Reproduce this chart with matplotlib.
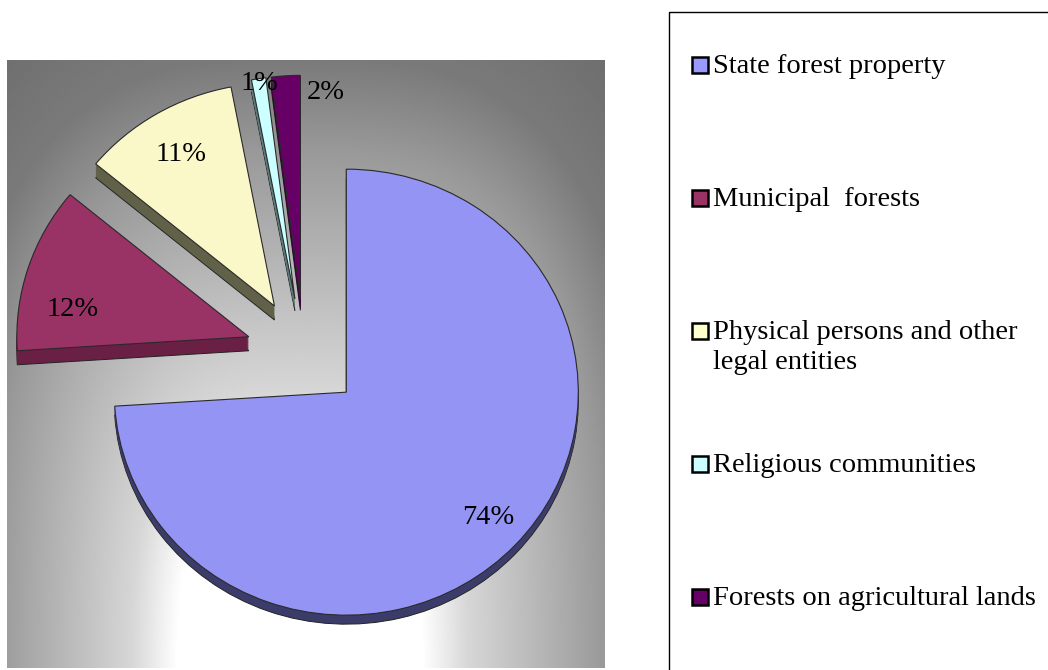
import numpy as np
import matplotlib.pyplot as plt
from matplotlib.patches import Rectangle

categories = ['State forest property', 'Municipal  forests',
              'Physical persons and other\nlegal entities',
              'Religious communities', 'Forests on agricultural lands']
shares = [74, 12, 11, 1, 2]

top_colors = ['#9494F4', '#993366', '#FAF8C8', '#CCFFFF', '#660066']
side_colors = ['#3C3C6A', '#6A1F45', '#616049', '#5C7A7A', '#42003F']
legend_colors = ['#9999FF', '#993366', '#FFFFCC', '#CCFFFF', '#660066']
side_depth = [9, 14, 14, 12, 12]      # thickness of each slice, px
label_r = [0.83, 0.77, 0.79, 0.98, 0.93]
label_turn = [0.6, 9, 0, 0, -10.3]    # degrees
explode = [0.25] * 5

W, H = 1048, 670
fig = plt.figure(figsize=(W / 100, H / 100), dpi=100)
serif = 'Liberation Serif'

# plot area (pixels) and pie scale
px0, px1, py0, py1 = 7, 605, 60, 668
rx, ry = 232, 223
cx, cy = 304, 354
ax = fig.add_axes([px0 / W, 1 - py1 / H, (px1 - px0) / W, (py1 - py0) / H])
xlim = ((px0 - cx) / rx, (px1 - cx) / rx)
ylim = (-(py1 - cy) / ry, (cy - py0) / ry)

# grey background, bright towards the bottom centre
gx, gy = np.meshgrid(np.linspace(px0, px1, 300), np.linspace(py0, py1, 300))
dist = (np.abs((gx - 300) / 340) ** 3 + np.abs((gy - 690) / 600) ** 3) ** (1 / 3)
shade = np.interp(dist, [0, 0.36, 0.5, 0.65, 0.9, 1.05, 1.25],
                  [1, 1, 0.84, 0.75, 0.6, 0.48, 0.43])
ax.imshow(shade, cmap='gray', vmin=0, vmax=1, origin='upper', aspect='auto',
          extent=(xlim[0], xlim[1], ylim[0], ylim[1]), zorder=0)

# slice thickness: stacked copies shifted downwards
for k in range(max(side_depth), 0, -1):
    side, _ = ax.pie(shares, explode=explode, colors=side_colors, startangle=90,
                     counterclock=False, center=(0, -k / ry), frame=True,
                     wedgeprops=dict(linewidth=0))
    for w, dep in zip(side, side_depth):
        w.set_visible(k <= dep)
        if k == dep:
            w.set_edgecolor('#222222')
            w.set_linewidth(0.7)

wedges, _ = ax.pie(shares, explode=explode, colors=top_colors, startangle=90,
                   counterclock=False, frame=True,
                   wedgeprops=dict(edgecolor='#2a2a2a', linewidth=0.8))

for w, val, r, turn in zip(wedges, shares, label_r, label_turn):
    ang = np.deg2rad((w.theta1 + w.theta2) / 2 + turn)
    ox, oy = w.center
    ax.text(ox + r * np.cos(ang), oy + r * np.sin(ang), f'{val}%',
            ha='center', va='center', fontsize=20.5, family=serif)

ax.set_aspect('auto')
ax.set_xlim(*xlim)
ax.set_ylim(*ylim)
ax.axis('off')

# legend box on the right
lax = fig.add_axes([0, 0, 1, 1])
lax.set_xlim(0, W)
lax.set_ylim(H, 0)
lax.axis('off')
lax.add_patch(Rectangle((669, 11.5), 500, 700, fill=False, ec='black', lw=1))
for i, (name, col) in enumerate(zip(categories, legend_colors)):
    base = 73 + 133 * i
    lax.add_patch(Rectangle((692, base - 16), 16, 16, fc=col, ec='black', lw=1.8))
    for j, line in enumerate(name.split('\n')):
        lax.text(713, base + 30 * j, line, va='baseline', ha='left',
                 fontsize=20.5, family=serif)

fig.savefig('out.png', dpi=100)
